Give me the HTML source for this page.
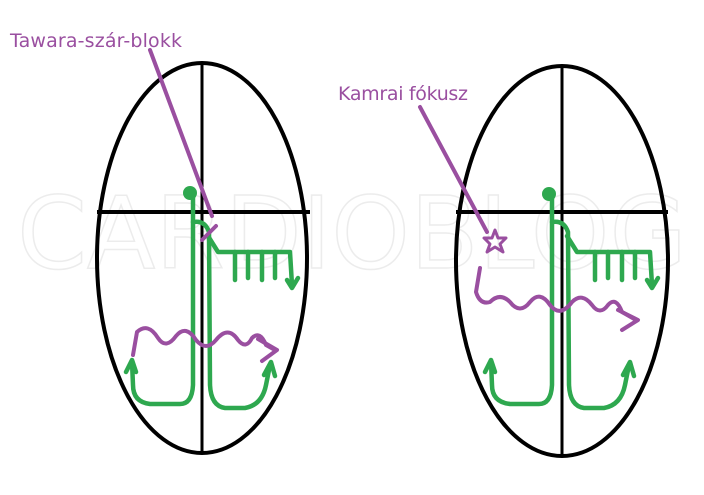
<!DOCTYPE html>
<html><head><meta charset="utf-8"><style>
html,body{margin:0;padding:0;background:#fff;width:704px;height:495px;overflow:hidden}
text{font-family:"DejaVu Sans","Liberation Sans",sans-serif}
</style></head><body>
<svg width="704" height="495" viewBox="0 0 704 495" xmlns="http://www.w3.org/2000/svg">
<text x="352" y="268" text-anchor="middle" font-size="100" fill="none" stroke="#ececec" stroke-width="1.5" font-family="Liberation Sans">CARDIOBLOG</text>
<g fill="none" stroke="#000" stroke-width="4">
<ellipse cx="202" cy="258" rx="105" ry="195"/>
<line x1="202" y1="63" x2="202" y2="453" stroke-width="3"/>
<line x1="97" y1="212" x2="310" y2="212"/>
<ellipse cx="562" cy="261" rx="106" ry="195"/>
<line x1="562" y1="66" x2="562" y2="456" stroke-width="3"/>
<line x1="456" y1="212" x2="668" y2="212"/>
</g>
<g fill="none" stroke="#2ea84f" stroke-width="4.5" stroke-linecap="round" stroke-linejoin="round">
<path d="M193,195 L193,385 Q192,404 180,404 L150,404 Q133,402 133,385 L132,362"/>
<path d="M126,372 L132,360 L136,372"/>
<path d="M193,222 Q205,220 209,232 L210,385 Q211,406 225,408 L245,408 Q262,405 266,385 L270,365"/>
<path d="M264,375 L271,362 L275,376"/>
<path d="M208,236 L218,252 L290,252 L292,285"/>
<path d="M287,280 L292,288 L298,278"/>
<path d="M235,252 V280 M248,252 V278 M262,252 V280 M275,252 V278"/>
<path d="M552,195 L552,385 Q551,404 539,404 L510,404 Q492,402 492,385 L491,362"/>
<path d="M485,372 L491,360 L495,372"/>
<path d="M552,222 Q564,220 568,232 L569,385 Q570,406 584,408 L604,408 Q621,405 625,385 L629,365"/>
<path d="M623,375 L630,362 L634,376"/>
<path d="M567,236 L577,252 L650,252 L652,285"/>
<path d="M647,280 L652,288 L658,278"/>
<path d="M595,252 V280 M608,252 V278 M622,252 V280 M635,252 V278"/>
</g>
<g fill="#2ea84f"><circle cx="190" cy="193" r="7"/><circle cx="549" cy="194" r="7"/></g>
<g fill="none" stroke="#9a4fa0" stroke-width="4" stroke-linecap="round" stroke-linejoin="round">
<line x1="150" y1="50" x2="212" y2="216"/>
<line x1="202" y1="240" x2="216" y2="226"/>
<path d="M133,355 L137,332 Q148,322 158,338 Q166,350 176,336 Q186,324 196,340 Q206,352 216,340 Q228,325 238,340 Q246,350 252,338 Q260,330 266,345 L275,350"/>
<path d="M258,339 L277,350 L262,361"/>
<line x1="420" y1="107" x2="487" y2="232"/>
<path d="M480,268 L476,292 Q480,305 490,302 Q500,292 510,302 Q520,315 530,302 Q540,290 550,305 Q560,318 572,302 Q582,292 592,305 Q600,316 608,305 Q616,296 622,312 L636,320"/>
<path d="M618,310 L638,320 L622,330"/>
<path d="M495,230 L498,238 L506,238 L500,244 L503,252 L495,247 L487,252 L490,244 L484,238 L492,238 Z" stroke-width="3"/>
</g>
<text x="10" y="47" font-size="19" fill="#9a4fa0" textLength="172">Tawara-szár-blokk</text>
<text x="338" y="100" font-size="19" fill="#9a4fa0" textLength="130">Kamrai fókusz</text>
</svg>
</body></html>
